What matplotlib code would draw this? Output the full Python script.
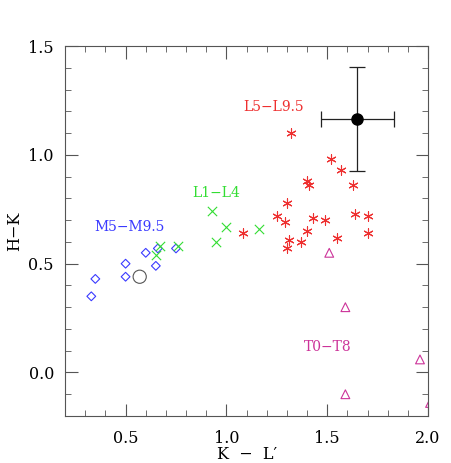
#!/usr/bin/env python3
"""Diagrama cor-cor H-K vs K-L' por tipo espectral."""

import matplotlib

matplotlib.use("Agg")
import matplotlib.pyplot as plt
from matplotlib.ticker import MultipleLocator

plt.rcParams["font.family"] = ["DejaVu Serif"]

# M5-M9.5 (diamantes azuis)
m_kl = [0.33, 0.35, 0.50, 0.50, 0.60, 0.65, 0.66, 0.75]
m_hk = [0.35, 0.43, 0.50, 0.44, 0.55, 0.49, 0.57, 0.57]

# L1-L4 (x verdes)
l1_kl = [0.67, 0.65, 0.76, 0.93, 1.00, 0.95, 1.16]
l1_hk = [0.58, 0.54, 0.58, 0.74, 0.67, 0.60, 0.66]

# L5-L9.5 (asteriscos vermelhos)
l5_kl = [1.08, 1.32, 1.52, 1.57, 1.40, 1.41, 1.63, 1.30, 1.25, 1.29,
         1.43, 1.49, 1.64, 1.70, 1.40, 1.70, 1.31, 1.37, 1.55, 1.30]
l5_hk = [0.64, 1.10, 0.98, 0.93, 0.88, 0.86, 0.86, 0.78, 0.72, 0.69,
         0.71, 0.70, 0.73, 0.72, 0.65, 0.64, 0.61, 0.60, 0.62, 0.57]

# T0-T8 (triangulos magenta)
t_kl = [1.51, 1.59, 1.96, 1.59, 2.01]
t_hk = [0.55, 0.30, 0.06, -0.10, -0.14]

# objeto isolado (circulo aberto)
circ_kl = [0.57]
circ_hk = [0.44]

# objeto com barras de erro
obj_kl = [1.65]
obj_hk = [1.165]
obj_xerr = [0.18]
obj_yerr = [0.24]

fig = plt.figure(figsize=(4.52, 4.63), dpi=100)
ax = fig.add_axes([0.144, 0.1015, 0.803, 0.799])

ax.scatter(m_kl, m_hk, marker="D", s=20, facecolors="none",
           edgecolors="#3a3aff", linewidths=0.8)
ax.scatter(l1_kl, l1_hk, marker="x", s=45, color="#33dd33", linewidths=0.8)
ax.scatter(l5_kl, l5_hk, marker=(6, 2, 0), s=45, color="#ee3030", linewidths=0.8)
ax.scatter(t_kl, t_hk, marker="^", s=40, facecolors="none",
           edgecolors="#cc3399", linewidths=0.8)
ax.scatter(circ_kl, circ_hk, marker="o", s=90, facecolors="none",
           edgecolors="#555555", linewidths=0.8)
ax.errorbar(obj_kl, obj_hk, xerr=obj_xerr, yerr=obj_yerr, fmt="o",
            color="black", ms=8, elinewidth=0.9, capsize=6, capthick=0.9,
            ecolor="#222222")

ax.text(1.235, 1.22, "L5\u2212L9.5", color="#ee3030", ha="center", va="center", fontsize=10)
ax.text(0.95, 0.823, "L1\u2212L4", color="#33dd33", ha="center", va="center", fontsize=10)
ax.text(0.52, 0.667, "M5\u2212M9.5", color="#3a3aff", ha="center", va="center", fontsize=10)
ax.text(1.50, 0.118, "T0\u2212T8", color="#cc3399", ha="center", va="center", fontsize=10)

ax.set_xlim(0.2, 2.0)
ax.set_ylim(-0.2, 1.5)
ax.xaxis.set_major_locator(MultipleLocator(0.5))
ax.xaxis.set_minor_locator(MultipleLocator(0.1))
ax.yaxis.set_major_locator(MultipleLocator(0.5))
ax.yaxis.set_minor_locator(MultipleLocator(0.1))
ax.tick_params(which="both", direction="in", top=True, right=True,
               color="#555555", labelsize=11.5)
ax.tick_params(axis="x", pad=10)
ax.tick_params(axis="y", pad=8)
ax.tick_params(which="major", length=9)
ax.tick_params(which="minor", length=4)
for sp in ax.spines.values():
    sp.set_color("#555555")

ax.set_xlabel("K  \u2212  L\u2032", fontsize=11.5, va="center")
ax.xaxis.set_label_coords(0.5, -0.105)
ax.set_ylabel("H\u2212K", fontsize=11.5, labelpad=4)

fig.savefig("out.png", dpi=100)
